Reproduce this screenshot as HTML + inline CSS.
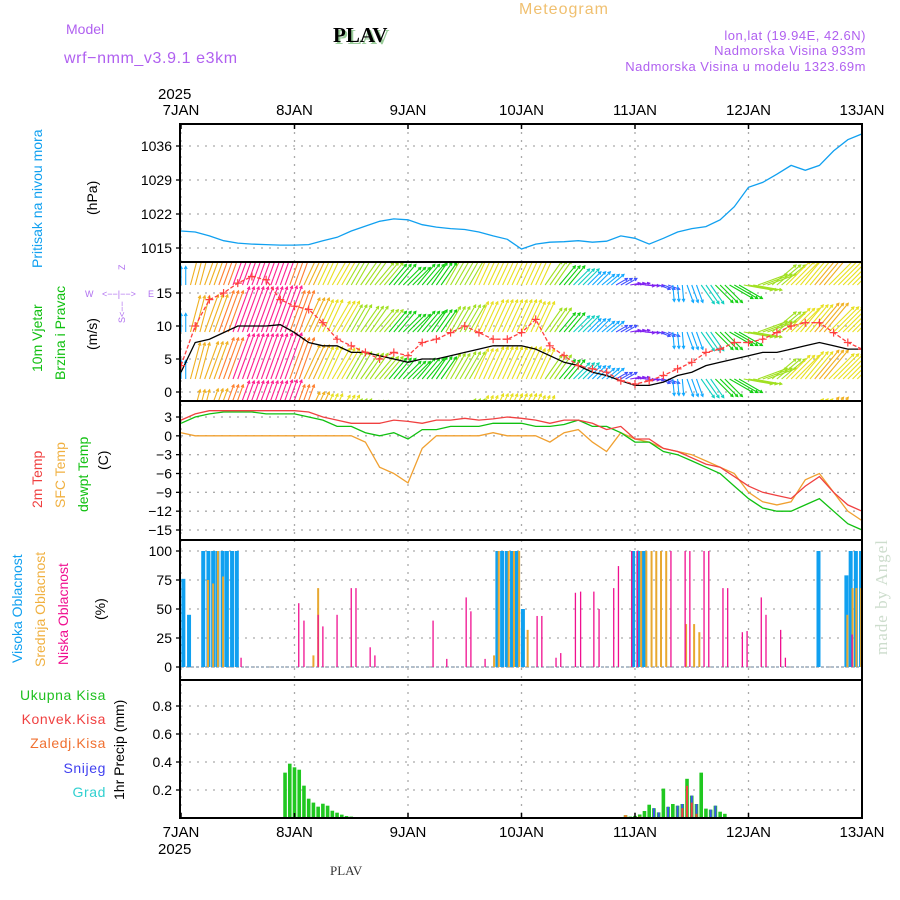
<!DOCTYPE html>
<html><head><meta charset="utf-8"><style>
html,body{margin:0;padding:0;background:#fff;}
svg{display:block;font-family:"Liberation Sans",sans-serif;}
</style></head><body>
<svg id="chart" width="900" height="900" viewBox="0 0 900 900">
<g>
<text x="66" y="34" font-size="14" fill="#b060f0">Model</text>
<text x="64" y="63" font-size="16" fill="#b060f0" letter-spacing="0.6">wrf−nmm_v3.9.1  e3km</text>
<text x="335" y="44" font-size="21" font-weight="bold" font-family="Liberation Serif,serif" fill="#9c9">PLAV</text>
<text x="333" y="42" font-size="21" font-weight="bold" font-family="Liberation Serif,serif" fill="#000">PLAV</text>
<text x="519" y="14" font-size="16" fill="#f0c070" letter-spacing="1">Meteogram</text>
<text x="866" y="40" font-size="13" fill="#b060f0" text-anchor="end" letter-spacing="0.5">lon,lat (19.94E, 42.6N)</text>
<text x="866" y="55" font-size="13" fill="#b060f0" text-anchor="end" letter-spacing="0.5">Nadmorska Visina 933m</text>
<text x="866" y="71" font-size="13" fill="#b060f0" text-anchor="end" letter-spacing="0.5">Nadmorska Visina u modelu 1323.69m</text>
<text x="330" y="875" font-size="13" font-family="Liberation Serif,serif" fill="#333">PLAV</text>
<text transform="translate(887,655) rotate(-90)" font-size="17" font-family="Liberation Serif,serif" fill="#cdddcd" letter-spacing="1">made by Angel</text>
</g>
<g>
<text transform="translate(42,268) rotate(-90)" font-size="14" fill="#10a0f0">Pritisak na nivou mora</text>
<text transform="translate(97,215) rotate(-90)" font-size="14" fill="#000">(hPa)</text>
<text transform="translate(42,372) rotate(-90)" font-size="14" fill="#10c010">10m Vjetar</text>
<text transform="translate(65,380) rotate(-90)" font-size="14" fill="#10c010">Brzina i Pravac</text>
<text transform="translate(97,350) rotate(-90)" font-size="14" fill="#000">(m/s)</text>
<text transform="translate(42,508) rotate(-90)" font-size="14" fill="#f04040">2m Temp</text>
<text transform="translate(65,508) rotate(-90)" font-size="14" fill="#f0b040">SFC Temp</text>
<text transform="translate(88,512) rotate(-90)" font-size="14" fill="#10c010">dewpt Temp</text>
<text transform="translate(108,470) rotate(-90)" font-size="14" fill="#000">(C)</text>
<text transform="translate(22,663) rotate(-90)" font-size="14" fill="#10a0f0">Visoka Oblacnost</text>
<text transform="translate(45,667) rotate(-90)" font-size="14" fill="#f0b040">Srednja Oblacnost</text>
<text transform="translate(68,665) rotate(-90)" font-size="14" fill="#f01090">Niska  Oblacnost</text>
<text transform="translate(105,620) rotate(-90)" font-size="14" fill="#000">(%)</text>
<text transform="translate(124,800) rotate(-90)" font-size="14" fill="#000">1hr Precip (mm)</text>
<text x="106" y="700" font-size="14" fill="#20c020" text-anchor="end" letter-spacing="0.6">Ukupna  Kisa</text>
<text x="106" y="724" font-size="14" fill="#f04040" text-anchor="end" letter-spacing="0.6">Konvek.Kisa</text>
<text x="106" y="748" font-size="14" fill="#f07030" text-anchor="end" letter-spacing="0.6">Zaledj.Kisa</text>
<text x="106" y="773" font-size="14" fill="#4040f0" text-anchor="end" letter-spacing="0.6">Snijeg</text>
<text x="106" y="797" font-size="14" fill="#30d0d0" text-anchor="end" letter-spacing="0.6">Grad</text>
<g fill="#b070f0" font-size="9">
<text x="85" y="297">W</text><text x="148" y="297">E</text><text x="102" y="297">&lt;−−|−−&gt;</text>
<text transform="translate(125,270) rotate(-90)">Z</text><text transform="translate(125,323) rotate(-90)">S&lt;−−</text>
</g>
</g>
<g id="plots"></g>
</svg>
<script>
// ---- data (3-hourly from 7JAN 00UTC, 49 points) ----
const dayLabels = ["7JAN","8JAN","9JAN","10JAN","11JAN","12JAN","13JAN"];
const pressTicks = [1015,1022,1029,1036];
const windTicks = [0,5,10,15];
const tempTicks = [3,0,-3,-6,-9,-12,-15];
const cloudTicks = [0,25,50,75,100];
const precipTicks = [0.2,0.4,0.6,0.8];
const pressure = [1018.5,1018.3,1017.5,1016.5,1016,1015.8,1015.7,1015.6,
 1015.6,1015.7,1016.5,1017.2,1018.5,1019.5,1020.5,1021,
 1020.8,1019.8,1019.3,1019,1018.8,1018.3,1017.5,1016.8,
 1014.8,1015.8,1016.2,1016.3,1016.5,1016.2,1016.4,1017.5,
 1017,1015.8,1017,1018.3,1019,1019.4,1020.8,1023.5,
 1027.5,1028.5,1030.2,1032,1031,1032,1035,1037.3,1038.5];
const windSpeed = [3,7.5,8,9,10,10,10,10.2, 9,7.5,7,7,6,6,5.5,5,
 4.5,5,5,5.5,6,6.5,7,7, 7,6.5,5.5,4.5,4,3,2.5,1.7,
 1,1,1.5,2.5,3,4,4.5,5, 5.5,6,6,6.5,7,7.5,7,6.5, 6.5];
const windGust = [4,10,14,15,16.5,17.5,17,14, 13,12.5,10.5,8,7,6,5,6,
 5.5,7.5,8,9,10,9,8,8, 9,11,7,5.5,4,3.5,3,1.7,
 1.2,1.7,2.5,3.5,4.5,6,6.5,7.5, 7.5,8,9,10,10.5,10.5,9,7.5, 6.5];
const windDir = [0,15,20,20,20,20,20,20, 20,25,25,30,30,35,40,40,
 45,40,35,30,30,25,25,25, 25,25,35,40,45,45,50,60,
 80,95,110,175,160,145,135,120, 100,70,50,45,40,40,45,45, 45];
const temp2m = [2.5,3.5,4,4,4,4,4,4, 4,3.8,3,2.5,2,2,2,2.5,
 2.3,2,2.5,2.5,2.8,2.5,2.7,3, 2.8,2.5,2,2.5,2.5,2,1,1.5,
 -0.5,-0.5,-2,-2.5,-3.5,-4.5,-5,-6.5, -8,-9,-9.5,-10,-8,-6.5,-9,-11, -12];
const dewpt = [2,3,3.5,3.8,3.8,3.8,3.5,3.5, 3.5,3,2.5,1.5,1.5,0.5,0,0.5,
 -0.5,1,1,1.5,1.5,1.5,2,2, 2,1.5,1.5,1.8,2.5,1.5,1.5,0.5,
 -1,-1,-2.5,-3,-4,-5,-6,-8, -10,-11.5,-12,-12,-11,-10,-12,-14, -15];
const sfcTemp = [0.5,0,0,0,0,0,0,0, 0,0,0,0,0,-1,-5,-6,
 -7.5,-2,0,0,0,0,0.5,0, 0,0,-1,0.5,1,-1,-2.5,0.5,
 -0.5,-1,-2,-2.5,-3,-4,-5,-6, -9,-10.5,-11,-10.5,-7,-6,-9,-12, -13.5];
// clouds: hour since 7JAN 00 and percent
const highHours = [0.5,1.7,4.7,5.8,6.8,7.7,8.8,9.7,10.8,11.8,66.9,67.9,68.9,70,71,72.3,95.6,96.7,97.8,134.8,140.7,141.6,142.7,143.8];
const highVals = [76,45,100,100,100,100,100,100,100,100,100,100,100,100,100,50,100,100,100,100,79,100,100,100];
const midHours = [5.7,6.8,7.8,8.9,28,29,66.2,67.2,69.3,70.4,71.5,73.3,97.3,98.4,99.5,100.5,101.5,102.6,106.8,108.5,109.6,140.9,142,142.8,143.8];
const midVals = [75,72,100,78,10,68,10,100,100,100,100,32,100,100,100,100,100,100,37,37,30,45,68,68,68];
const lowHours = [12.7,24.9,26,29,30,33,36,37,40,41,53.3,56.2,60.3,61.3,64.3,75.3,76.3,79.3,80.3,83.4,84.5,87.3,88.4,91.5,92.5,95.3,96.5,103.6,106.6,107.6,110.6,111.6,114.6,115.6,118.7,119.7,122.7,123.7,126.8,127.8,141.9];
const lowVals = [8,55,40,45,35,45,68,68,17,10,40,7,60,48,7,44,44,8,12,64,65,65,50,68,87,100,100,100,100,100,100,100,68,68,30,31,60,45,32,8,28];
// precip (hourly)
const rainHours1 = [22,23,24,25,26,27,28,29,30,31,32,33,34,35,36];
const rainTotal1 = [0.324,0.388,0.362,0.345,0.231,0.138,0.11,0.081,0.102,0.088,0.052,0.038,0.024,0.014,0.01];
const rainHours2 = [93,94,95,96,97,98,99,100,101,102,103,104,105,106,107,108,109,110,111,112,113,114,115];
const rainTotal2 = [0.005,0.02,0.01,0.015,0.025,0.05,0.095,0.07,0.04,0.21,0.08,0.1,0.088,0.1,0.28,0.16,0.1,0.324,0.067,0.06,0.088,0.045,0.03];
const snow2 = [0,0,0,0,0,0,0,0.07,0.04,0,0.08,0,0.088,0.1,0,0.16,0.1,0,0,0.06,0.088,0,0];
const conv2 = [0,0,0,0,0,0,0,0,0,0,0,0,0,0.07,0.23,0.11,0.03,0,0,0,0,0,0];
const frz2 = [0,0.02,0,0,0.01,0,0,0,0,0,0,0,0,0,0,0,0,0,0,0,0,0,0];

// ---- axes ----
const X0=181, X1=862, NS="http://www.w3.org/2000/svg";
const xh = h => X0 + (X1-X0)*h/144;
const xi = i => xh(i*3);
const yP = v => 248 - (v-1015)*(102/21);
const yW = v => 392 - v*6.6;
const yT = v => 417 + (3-v)*(113/18);
const yC = v => 667 - v*1.16;
const yR = v => 818 - v*140;
const root = document.getElementById('plots');
function mk(tag, attrs, parent){ const e=document.createElementNS(NS,tag); for(const k in attrs) e.setAttribute(k,attrs[k]); (parent||root).appendChild(e); return e; }
const panels=[[124,262,'pressure-panel'],[262,401,'wind-panel'],[401,540,'temperature-panel'],[540,680,'cloud-panel'],[680,818,'precip-panel']];
// clip
const defs=mk('defs',{});
panels.forEach((p,i)=>{ const c=mk('clipPath',{id:'c'+i},defs); mk('rect',{x:X0,y:p[0],width:X1-X0,height:p[1]-p[0]},c); });
const gGrid=mk('g',{});


function hgrid(ticks,yf,fmt,name){
  ticks.forEach(t=>{
    const y=yf(t);
    const l=mk('line',{x1:X0,x2:X1,y1:y,y2:y,stroke:'#aaa','stroke-dasharray':'2,6','stroke-width':1.3},gGrid);
    
    
    const tk=mk('line',{x1:X0-5,x2:X0,y1:y,y2:y,stroke:'#000','stroke-width':1.3},gGrid);
    
    
    const tx=mk('text',{x:X0-9,y:y+5,'font-size':14,'text-anchor':'end',fill:'#000'},gGrid);
    tx.textContent=fmt(t);
    
    
  });
}
hgrid(pressTicks,yP,t=>t,'pressure');
hgrid(windTicks,yW,t=>t,'wind');
hgrid(tempTicks,yT,t=>t<0?'−'+(-t):t,'temp');
hgrid(cloudTicks,yC,t=>t,'cloud');
hgrid(precipTicks,yR,t=>t.toFixed(1),'precip');
dayLabels.forEach((d,i)=>{
  const x=xh(i*24);
  const v=mk('line',{x1:x,x2:x,y1:124,y2:818,stroke:'#aaa','stroke-dasharray':'2,6','stroke-width':1.3},gGrid);
  
  
  const t1=mk('text',{x:x,y:115,'font-size':15,'text-anchor':'middle',fill:'#000'},gGrid);
  t1.textContent=d;
  
  
  const t2=mk('text',{x:x,y:837,'font-size':15,'text-anchor':'middle',fill:'#000'},gGrid);
  t2.textContent=d;
  
  
});
const y1=mk('text',{x:158,y:99,'font-size':15,fill:'#000'},gGrid); y1.textContent='2025';


const y2=mk('text',{x:158,y:854,'font-size':15,fill:'#000'},gGrid); y2.textContent='2025';



function poly(arr,yf,color,name,clip,extra){
  const pts=arr.map((v,i)=>xi(i).toFixed(1)+','+yf(v).toFixed(1)).join(' ');
  const p=mk('polyline',Object.assign({points:pts,fill:'none',stroke:color,'stroke-width':1.3,'clip-path':'url(#c'+clip+')'},extra||{}));
  
  
  return p;
}
// pressure
poly(pressure,yP,'#10a0f0','pressure-line',0);
// wind arrows
function spdColor(s){
  if(s<1.5) return '#8020f0'; if(s<2.5) return '#4050ff'; if(s<3.5) return '#10a8ff';
  if(s<4.5) return '#10d0c0'; if(s<5.5) return '#10d010'; if(s<6.5) return '#a0e020';
  if(s<7.5) return '#e8e020'; if(s<8.5) return '#f0b020'; if(s<9.5) return '#ff8030'; return '#ff2090';
}
const gW=mk('g',{'clip-path':'url(#c1)'});


const rowBases=[238,285,332,379,426];
windSpeed.forEach((s,i)=>{
  const dir=windDir[i]*Math.PI/180, L=6+s*4.2, col=spdColor(s);
  [-1,0,1].forEach(o=>{
    const x=xh(i*3+o);
    rowBases.forEach(b=>{
      const xe=x+L*Math.sin(dir), ye=b-L*Math.cos(dir);
      const a=mk('line',{x1:x,y1:b,x2:xe,y2:ye,stroke:col,'stroke-width':1.1},gW);
      
      
      const hd=mk('path',{d:`M${xe-3*Math.sin(dir-0.5)},${ye+3*Math.cos(dir-0.5)}L${xe},${ye}L${xe-3*Math.sin(dir+0.5)},${ye+3*Math.cos(dir+0.5)}`,fill:'none',stroke:col,'stroke-width':1.1},gW);
      
      
    });
  });
});
poly(windSpeed,yW,'#000','wind-speed-line',1);
poly(windGust,yW,'#ff4040','wind-gust-line',1,{'stroke-dasharray':'4,2'});
windGust.forEach((v,i)=>{
  const x=xi(i), y=yW(v);
  const m=mk('path',{d:`M${x-4},${y}H${x+4}M${x},${y-4}V${y+4}`,stroke:'#ff4040','stroke-width':1.2,'clip-path':'url(#c1)'});
  
  
});
// temperatures
poly(sfcTemp,yT,'#f0a030','sfc-temp-line',2);
poly(dewpt,yT,'#10c010','dewpt-line',2);
poly(temp2m,yT,'#f04040','temp-2m-line',2);
// clouds
function bars(hours,vals,yf,color,w,name,clip){
  hours.forEach((h,i)=>{
    const y=yf(vals[i]), y0=yf(0);
    const r=mk('rect',{x:xh(h)-w/2,y:y,width:w,height:Math.max(0,y0-y),fill:color,'clip-path':'url(#c'+clip+')'});
    
    
  });
}
const cb=mk('line',{x1:X0,x2:X1,y1:yC(0),y2:yC(0),stroke:'#9ab','stroke-width':1.5,'stroke-dasharray':'3,2'});


bars(highHours,highVals,yC,'#10a0f0',4,'high-cloud-bar',3);
bars(midHours,midVals,yC,'#e8a830',2,'mid-cloud-bar',3);
bars(lowHours,lowVals,yC,'#f01090',1.3,'low-cloud-bar',3);
// precip
bars(rainHours1,rainTotal1,yR,'#20c820',3.6,'total-rain-bar',4);
bars(rainHours2,rainTotal2,yR,'#20c820',3.6,'total-rain-bar',4);
bars(rainHours2,snow2,yR,'#4050f0',2,'snow-bar',4);
bars(rainHours2,conv2,yR,'#f04040',2,'convective-rain-bar',4);
bars(rainHours2,frz2,yR,'#f08030',3,'freezing-rain-bar',4);
// frames
panels.forEach(p=>{
  const r=mk('rect',{x:X0-1,y:p[0],width:X1-X0+1,height:p[1]-p[0],fill:'none',stroke:'#000','stroke-width':2});
  
  
});
dayLabels.forEach((d,i)=>{
  const x=xh(i*24);
  [[124,129],[813,818]].forEach(s=>{
    const t=mk('line',{x1:x,x2:x,y1:s[0],y2:s[1],stroke:'#000','stroke-width':1.5});
    
    
  });
});
</script>
</body></html>
